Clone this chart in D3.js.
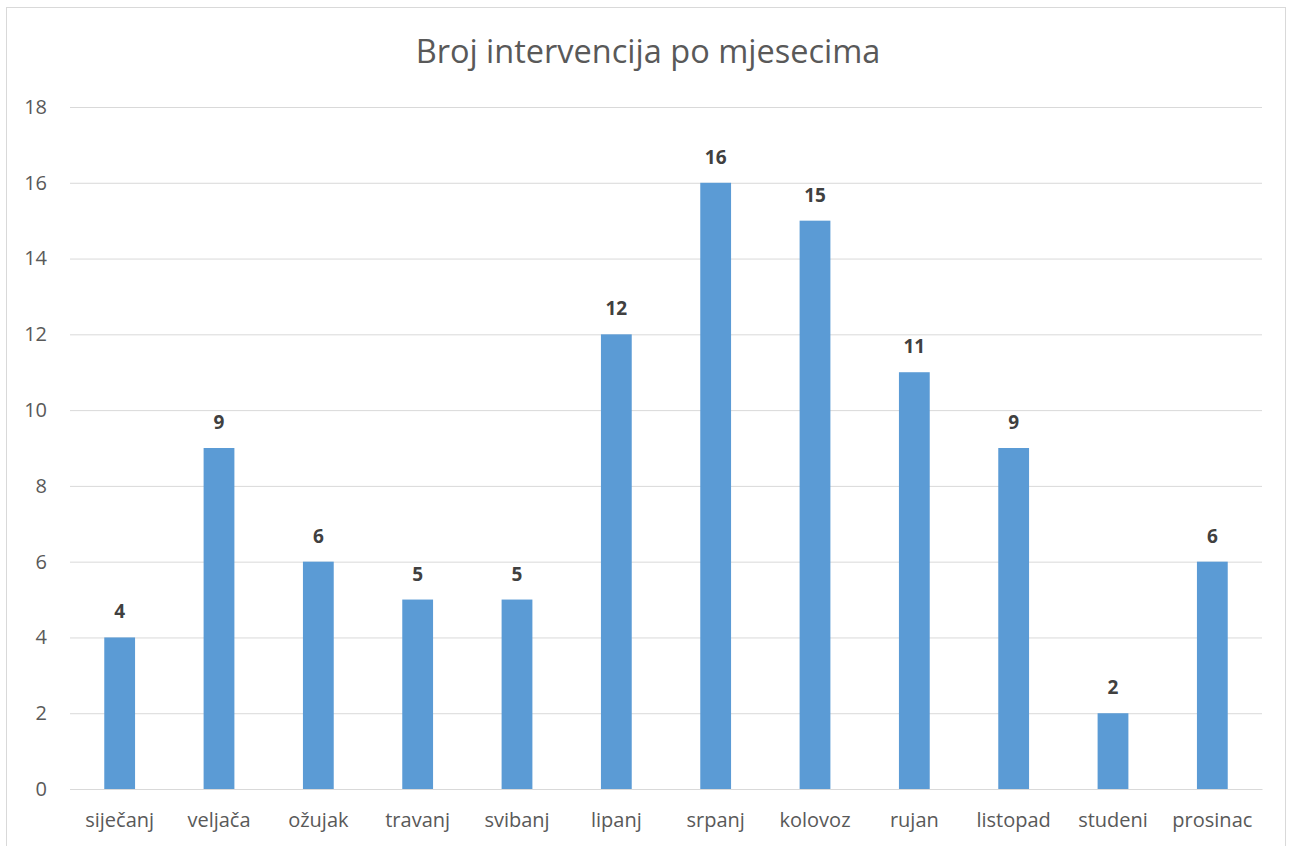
<!DOCTYPE html>
<html><head><meta charset="utf-8">
<script src="https://cdn.jsdelivr.net/npm/d3@7"></script>
<style>body{margin:0;background:#fff;} text{font-family:"Open Sans", sans-serif;}</style>
</head><body><svg id="c" width="1292" height="846"></svg>
<script>
const categories = ["siječanj","veljača","ožujak","travanj","svibanj","lipanj","srpanj","kolovoz","rujan","listopad","studeni","prosinac"];
const values = [4,9,6,5,5,12,16,15,11,9,2,6];
const yTicks = [0,2,4,6,8,10,12,14,16,18];
const title = "Broj intervencija po mjesecima";

const svg = d3.select("#c");
svg.append("rect").attr("x",6.5).attr("y",7.5).attr("width",1279).attr("height",845)
  .attr("fill","#fff").attr("stroke","#d9d9d9");
const L=70,R=1262,T=107,B=789;
const x = d3.scaleBand().domain(categories).range([L,R]).paddingInner(0.69).paddingOuter(0.345);
const y = d3.scaleLinear().domain([0,18]).range([B,T]);

const ya = svg.append("g").attr("transform",`translate(${L},0)`)
  .call(d3.axisLeft(y).tickValues(yTicks).tickSize(-(R-L)).tickPadding(23));
ya.attr("font-size",null).attr("font-family",null);
ya.select(".domain").remove();
ya.selectAll(".tick line").attr("stroke","#d9d9d9");
ya.selectAll(".tick text").attr("fill","#595959").style("font-size","20px");

const xa = svg.append("g").attr("transform",`translate(0,${B})`)
  .call(d3.axisBottom(x).tickSize(0).tickPadding(24));
xa.attr("font-size",null).attr("font-family",null);
xa.select(".domain").attr("stroke","#d9d9d9");
xa.selectAll(".tick text").attr("fill","#595959").style("font-size","20px");

svg.append("g").selectAll("rect").data(values).join("rect")
  .attr("x",(d,i)=>x(categories[i])).attr("width",x.bandwidth())
  .attr("y",d=>y(d)).attr("height",d=>B-y(d)).attr("fill","#5b9bd5");

svg.append("g").selectAll("text").data(values).join("text")
  .attr("x",(d,i)=>x(categories[i])+x.bandwidth()/2).attr("y",d=>y(d)-19)
  .attr("text-anchor","middle").attr("fill","#404040").style("font-size","19px").style("font-weight","bold")
  .text(d=>d);

svg.append("text").attr("x",648).attr("y",63).attr("text-anchor","middle")
  .attr("fill","#595959").style("font-size","32.5px").text(title);
</script></body></html>
